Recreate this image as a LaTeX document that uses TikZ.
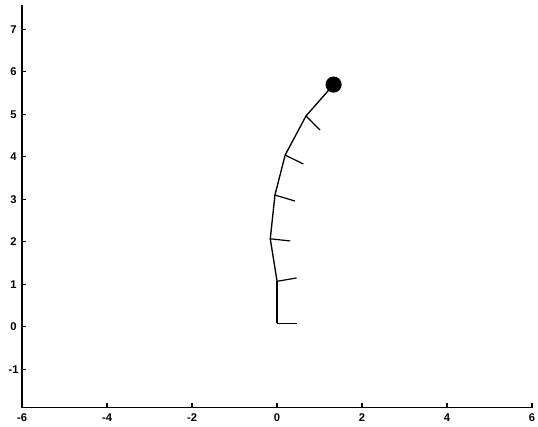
\documentclass[tikz,border=0pt]{standalone}
\usepackage{fontspec}
\setmainfont{Liberation Sans}
\begin{document}
\begin{tikzpicture}[font=\fontsize{7.5}{8}\selectfont\bfseries]
\useasboundingbox (-6.52,-2.35) rectangle (6.14,7.69);
\draw[line width=1pt] (-6,7.57) -- (-6,-1.9) -- (6,-1.9);
\foreach \y in {-1,...,7} {
  \draw[thick] (-6,\y) -- (-5.9,\y);
  \node at (-6.2,\y) {\y};
}
\foreach \x in {-6,-4,...,6} {
  \draw[thick] (\x,-1.9) -- (\x,-1.8);
  \node at (\x,-2.14) {\x};
}

\coordinate (j0) at (0,0.08);
\coordinate (j1) at (0,1.07);
\coordinate (j2) at (-0.16,2.07);
\coordinate (j3) at (-0.05,3.1);
\coordinate (j4) at (0.19,4.04);
\coordinate (j5) at (0.68,4.96);
\coordinate (tip) at (1.33,5.7);

\draw[line width=1.6pt] (j0) -- (j1);
\draw[line width=0.9pt] (j0) -- (0.46,0.08);
\draw[line width=0.9pt] (j1) -- (j2) -- (j3) -- (j4) -- (j5) -- (tip);
\draw[line width=0.8pt] (j1) -- (0.46,1.15);
\draw[line width=0.8pt] (j2) -- (0.31,2.02);
\draw[line width=0.8pt] (j3) -- (0.42,2.96);
\draw[line width=0.8pt] (j4) -- (0.62,3.83);
\draw[line width=0.8pt] (j5) -- (1.01,4.63);
\fill (tip) circle (0.19);
\end{tikzpicture}
\end{document}
